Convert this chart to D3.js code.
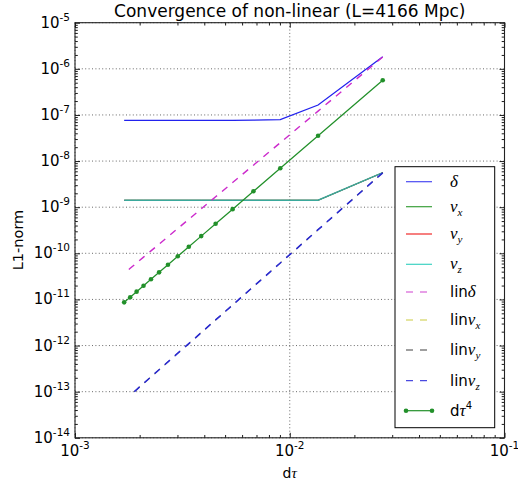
<!DOCTYPE html>
<html><head><meta charset="utf-8">
<script src="https://cdn.jsdelivr.net/npm/d3@7"></script>
<style>
html,body{margin:0;padding:0;background:#fff;}
svg{display:block;}
text{font-family:"DejaVu Sans",sans-serif;fill:#000;}
</style></head>
<body>
<svg id="chart" width="518" height="487"></svg>
<script>
// ---------------- data ----------------
const dtau = [0.0271, 0.01355, 0.009033, 0.006775, 0.00542, 0.004517, 0.003871, 0.003388,
              0.003011, 0.00271, 0.002464, 0.002258, 0.002085, 0.001936, 0.001807, 0.001694];
const delta = [1.83e-6, 1.64e-7, 7.9e-8, 7.7e-8, 7.65e-8, 7.65e-8, 7.65e-8, 7.65e-8,
               7.65e-8, 7.65e-8, 7.65e-8, 7.65e-8, 7.65e-8, 7.65e-8, 7.65e-8, 7.65e-8];
const vx = [5.6e-9, 1.41e-9, 1.41e-9, 1.41e-9, 1.41e-9, 1.41e-9, 1.41e-9, 1.41e-9,
            1.41e-9, 1.41e-9, 1.41e-9, 1.41e-9, 1.41e-9, 1.41e-9, 1.41e-9, 1.41e-9];
const vy = [5.6e-9, 1.41e-9, 1.41e-9, 1.41e-9, 1.41e-9, 1.41e-9, 1.41e-9, 1.41e-9,
            1.41e-9, 1.41e-9, 1.41e-9, 1.41e-9, 1.41e-9, 1.41e-9, 1.41e-9, 1.41e-9];
const vz = [5.6e-9, 1.41e-9, 1.41e-9, 1.41e-9, 1.41e-9, 1.41e-9, 1.41e-9, 1.41e-9,
            1.41e-9, 1.41e-9, 1.41e-9, 1.41e-9, 1.41e-9, 1.41e-9, 1.41e-9, 1.41e-9];
const linDelta = [1.80e-6, 1.212e-7, 2.497e-8, 8.15e-9, 3.416e-9, 1.679e-9, 9.21e-10, 5.476e-10,
                  3.46e-10, 2.296e-10, 1.585e-10, 1.128e-10, 8.27e-11, 6.19e-11, 4.73e-11, 3.68e-11];
const linVx = [5.57e-9, 3.25e-10, 6.17e-11, 1.90e-11, 7.59e-12, 3.59e-12, 1.91e-12, 1.10e-12,
               6.82e-13, 4.43e-13, 2.99e-13, 2.09e-13, 1.51e-13, 1.11e-13, 8.39e-14, null];
const linVy = [5.57e-9, 3.25e-10, 6.17e-11, 1.90e-11, 7.59e-12, 3.59e-12, 1.91e-12, 1.10e-12,
               6.82e-13, 4.43e-13, 2.99e-13, 2.09e-13, 1.51e-13, 1.11e-13, 8.39e-14, null];
const linVz = [5.57e-9, 3.25e-10, 6.17e-11, 1.90e-11, 7.59e-12, 3.59e-12, 1.91e-12, 1.10e-12,
               6.82e-13, 4.43e-13, 2.99e-13, 2.09e-13, 1.51e-13, 1.11e-13, 8.39e-14, null];
const dtau4 = [5.66e-7, 3.54e-8, 6.99e-9, 2.21e-9, 9.06e-10, 4.37e-10, 2.36e-10, 1.383e-10,
               8.63e-11, 5.66e-11, 3.87e-11, 2.73e-11, 1.98e-11, 1.474e-11, 1.118e-11, 8.64e-12];

const xTickExps = [-3, -2, -1];
const yTickExps = [-14, -13, -12, -11, -10, -9, -8, -7, -6, -5];

const titleText = "Convergence of non-linear (L=4166 Mpc)";
const xLabelMain = "d", xLabelMath = "τ";
const yLabelText = "L1-norm";

const seriesList = [
  {vals: delta,    label: [{t:"δ", m:1}],                     col:"#2222ee", lcol:"#4a4af2", dash:false, w:1.25},
  {vals: vx,       label: [{t:"v", m:1},{t:"x", m:1, sub:1}], col:"#2a962a", lcol:"#3ca03c", dash:false, w:1.0},
  {vals: vy,       label: [{t:"v", m:1},{t:"y", m:1, sub:1}], col:"#f01818", lcol:"#f02a2a", dash:false, w:1.0},
  {vals: vz,       label: [{t:"v", m:1},{t:"z", m:1, sub:1}], col:"#3aa99c", lcol:"#3ed2c2", dash:false, w:1.5},
  {vals: linDelta, label: [{t:"lin"},{t:"δ", m:1}],           col:"#cc2acc", lcol:"#d040d0", dash:true, w:1.4},
  {vals: linVx,    label: [{t:"lin"},{t:"v", m:1},{t:"x", m:1, sub:1}], col:"#c8c828", lcol:"#cccc40", dash:true, w:0.9},
  {vals: linVy,    label: [{t:"lin"},{t:"v", m:1},{t:"y", m:1, sub:1}], col:"#333333", lcol:"#404040", dash:true, w:0.9},
  {vals: linVz,    label: [{t:"lin"},{t:"v", m:1},{t:"z", m:1, sub:1}], col:"#2a2ad2", lcol:"#4a4ae0", dash:true, w:1.6},
  {vals: dtau4,    label: [{t:"d"},{t:"τ", m:1},{t:"4", sup:1}], col:"#22902a", lcol:"#22902a", dash:false, w:1.25, markers:true}
];

// ---------------- layout ----------------
const L = 75, R = 504.5, T = 22.7, B = 437.8;
const MATH_FONT = "'Liberation Serif', 'DejaVu Serif', serif";
const svg = d3.select("#chart");
const x = d3.scaleLog().domain([1e-3, 1e-1]).range([L, R]);
const y = d3.scaleLog().domain([1e-14, 1e-5]).range([B, T]);

// grid
const grid = svg.append("g");
xTickExps.forEach(e => {
  const v = Math.pow(10, e);
  grid.append("line").attr("x1", x(v)).attr("x2", x(v)).attr("y1", T).attr("y2", B)
    .attr("stroke", "#444").attr("stroke-width", 0.8).attr("stroke-dasharray", "1,2.4");
});
yTickExps.forEach(e => {
  const v = Math.pow(10, e);
  grid.append("line").attr("x1", L).attr("x2", R).attr("y1", y(v)).attr("y2", y(v))
    .attr("stroke", "#444").attr("stroke-width", 0.8).attr("stroke-dasharray", "1,2.4");
});

function minors(e0, e1) {
  const out = [];
  for (let e = e0; e < e1; e++) for (let k = 2; k <= 9; k++) out.push(k * Math.pow(10, e));
  return out;
}
const xMaj = xTickExps.map(e => Math.pow(10, e));
const yMaj = yTickExps.map(e => Math.pow(10, e));
const xMin = minors(-3, -1), yMin = minors(-14, -5);

const axG = svg.append("g");
function addAxis(axisFn, scale, vals, size, tr) {
  const a = axisFn(scale).tickValues(vals).tickSizeInner(-size).tickSizeOuter(0).tickFormat("");
  const g = axG.append("g").attr("transform", tr).call(a);
  g.select(".domain").remove();
  g.selectAll("line").attr("stroke", "#000").attr("stroke-width", 0.9);
}
[[xMaj, 5], [xMin, 2.8]].forEach(([v, s]) => {
  addAxis(d3.axisBottom, x, v, s, `translate(0,${B})`);
  addAxis(d3.axisTop, x, v, s, `translate(0,${T})`);
});
[[yMaj, 5], [yMin, 2.8]].forEach(([v, s]) => {
  addAxis(d3.axisLeft, y, v, s, `translate(${L},0)`);
  addAxis(d3.axisRight, y, v, s, `translate(${R},0)`);
});

// series
const plotG = svg.append("g");
seriesList.forEach(s => {
  const pts = dtau.map((d, i) => [d, s.vals[i]]).filter(p => p[1] != null);
  const line = d3.line().x(p => x(p[0])).y(p => y(p[1]));
  plotG.append("path").attr("d", line(pts)).attr("fill", "none")
    .attr("stroke", s.col).attr("stroke-width", s.w)
    .attr("stroke-dasharray", s.dash ? "7,6.5" : null);
  if (s.markers) {
    plotG.selectAll(null).data(pts).enter().append("circle")
      .attr("cx", p => x(p[0])).attr("cy", p => y(p[1])).attr("r", 2.3)
      .attr("fill", s.col);
  }
});

// frame
svg.append("rect").attr("x", L).attr("y", T).attr("width", R - L).attr("height", B - T)
  .attr("fill", "none").attr("stroke", "#222").attr("stroke-width", 1.1);

// tick labels
const labG = svg.append("g");
function powLabel(xp, yp, e, anchor) {
  const t = labG.append("text").attr("x", xp).attr("y", yp).attr("text-anchor", anchor)
    .style("font-size", "15px");
  t.append("tspan").text("10");
  t.append("tspan").attr("dy", -7).style("font-size", "10.5px").text("-" + Math.abs(e));
}
yTickExps.forEach(e => powLabel(70, y(Math.pow(10, e)) + 5, e, "end"));
xTickExps.forEach(e => powLabel(x(Math.pow(10, e)), 456, e, "middle"));

// title & axis labels
svg.append("text").attr("x", (L + R) / 2).attr("y", 16.5).attr("text-anchor", "middle")
  .style("font-size", "17px").text(titleText);
const xl = svg.append("text").attr("x", (L + R) / 2).attr("y", 478).attr("text-anchor", "middle")
  .style("font-size", "14px");
xl.append("tspan").text(xLabelMain);
xl.append("tspan").style("font-family", MATH_FONT).style("font-style", "italic").style("font-size", "15px").text(xLabelMath);
svg.append("text").attr("transform", "translate(23,240) rotate(-90)").attr("text-anchor", "middle")
  .style("font-size", "14.5px").text(yLabelText);

// legend
const lx0 = 395, ly0 = 166.7, lx1 = 494.7, ly1 = 427.7;
const legG = svg.append("g");
legG.append("rect").attr("x", lx0).attr("y", ly0).attr("width", lx1 - lx0).attr("height", ly1 - ly0)
  .attr("fill", "#fff").attr("stroke", "#000").attr("stroke-width", 1);
const rowY = [181.7, 206.7, 234, 264.3, 292, 320, 350, 380.7, 410.7];
seriesList.forEach((s, i) => {
  const yy = rowY[i];
  legG.append("line").attr("x1", 406).attr("x2", 432).attr("y1", yy).attr("y2", yy)
    .attr("stroke", s.lcol).attr("stroke-width", 1.2)
    .attr("stroke-dasharray", s.dash ? "7,7" : null);
  if (s.markers) {
    [406, 432].forEach(cx => legG.append("circle").attr("cx", cx).attr("cy", yy).attr("r", 2.3).attr("fill", s.lcol));
  }
  const t = legG.append("text").attr("x", 450).attr("y", yy + 5).style("font-size", "15px");
  s.label.forEach(p => {
    const sp = t.append("tspan").text(p.t);
    if (p.m) sp.style("font-family", MATH_FONT).style("font-style", "italic").style("font-size", p.sub ? "11px" : "17px");
    if (p.sub) sp.attr("dy", 4);
    if (p.sup) sp.attr("dy", -7).style("font-size", "10px");
  });
});
</script>
</body></html>
